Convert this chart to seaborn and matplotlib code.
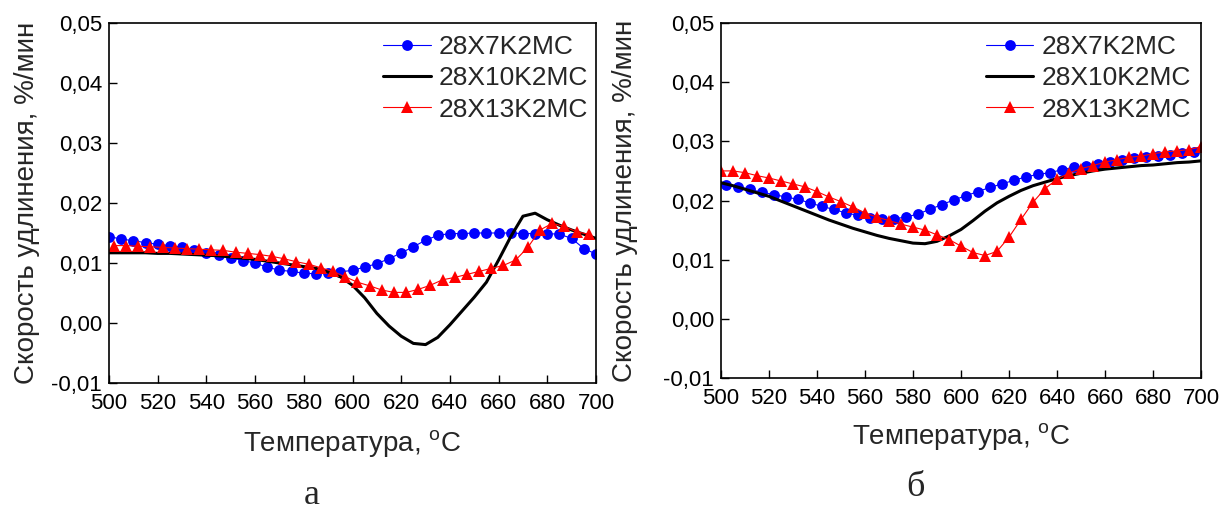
import numpy as np
import pandas as pd
import matplotlib
matplotlib.use("Agg")
import matplotlib.pyplot as plt
import seaborn as sns

# ---------------- data ----------------
series_names = ["28X7K2MC", "28X10K2MC", "28X13K2MC"]

# panel a
a_t_blue = list(range(500, 701, 5))
a_v_blue = [0.0144, 0.0140, 0.0137, 0.0134, 0.0131, 0.0129, 0.0126, 0.0122, 0.0117, 0.0113,
            0.0109, 0.0104, 0.0100, 0.0093, 0.0088, 0.0086, 0.0083, 0.0082, 0.0083, 0.0085,
            0.0088, 0.0093, 0.0099, 0.0107, 0.0117, 0.0127, 0.0138, 0.0146, 0.0149, 0.0149,
            0.0150, 0.0150, 0.0150, 0.0150, 0.0149, 0.0149, 0.0149, 0.0148, 0.0141, 0.0124,
            0.0115]
a_t_black = list(range(500, 701, 5))
a_v_black = [0.0117, 0.0117, 0.0117, 0.0117, 0.0116, 0.0116, 0.0115, 0.0114, 0.0113, 0.0112,
             0.0110, 0.0108, 0.0106, 0.0103, 0.0100, 0.0097, 0.0094, 0.0091, 0.0085, 0.0077,
             0.0063, 0.0042, 0.0016, -0.0005, -0.0022, -0.0034, -0.0036, -0.0024, -0.0003, 0.0020,
             0.0043, 0.0068, 0.0105, 0.0144, 0.0178, 0.0183, 0.0172, 0.0163, 0.0155, 0.0148,
             0.0141]
a_t_red = list(range(502, 698, 5))
a_v_red = [0.0129, 0.0129, 0.0128, 0.0127, 0.0126, 0.0125, 0.0124, 0.0123, 0.0122, 0.0121,
           0.0118, 0.0116, 0.0114, 0.0111, 0.0107, 0.0102, 0.0098, 0.0092, 0.0086, 0.0077,
           0.0068, 0.0062, 0.0055, 0.0051, 0.0051, 0.0056, 0.0063, 0.0072, 0.0076, 0.0081,
           0.0086, 0.0091, 0.0096, 0.0105, 0.0126, 0.0155, 0.0166, 0.0161, 0.0152, 0.0148]

# panel б
b_t_blue = list(range(502, 698, 5))
b_v_blue = [0.0227, 0.0223, 0.0219, 0.0214, 0.0210, 0.0206, 0.0202, 0.0196, 0.0190, 0.0185,
            0.0179, 0.0175, 0.0171, 0.0169, 0.0169, 0.0172, 0.0177, 0.0185, 0.0193, 0.0201,
            0.0208, 0.0215, 0.0222, 0.0228, 0.0234, 0.0240, 0.0244, 0.0247, 0.0252, 0.0256,
            0.0259, 0.0262, 0.0265, 0.0268, 0.0271, 0.0273, 0.0275, 0.0277, 0.0280, 0.0282]
b_t_black = list(range(500, 701, 5))
b_v_black = [0.0230, 0.0225, 0.0219, 0.0213, 0.0207, 0.0199, 0.0191, 0.0183, 0.0175, 0.0167,
             0.0160, 0.0153, 0.0147, 0.0141, 0.0136, 0.0132, 0.0128, 0.0127, 0.0131, 0.0140,
             0.0151, 0.0166, 0.0182, 0.0196, 0.0207, 0.0217, 0.0225, 0.0231, 0.0237, 0.0242,
             0.0246, 0.0250, 0.0253, 0.0255, 0.0257, 0.0259, 0.0260, 0.0262, 0.0264, 0.0265,
             0.0267]
b_t_red = list(range(500, 701, 5))
b_v_red = [0.0250, 0.0250, 0.0247, 0.0242, 0.0238, 0.0233, 0.0228, 0.0223, 0.0215, 0.0206,
           0.0198, 0.0189, 0.0179, 0.0172, 0.0166, 0.0160, 0.0155, 0.0150, 0.0142, 0.0134,
           0.0123, 0.0112, 0.0107, 0.0114, 0.0138, 0.0168, 0.0197, 0.0220, 0.0236, 0.0246,
           0.0254, 0.0259, 0.0265, 0.0269, 0.0273, 0.0275, 0.0279, 0.0282, 0.0284, 0.0286,
           0.0291]

x_ticks = list(range(500, 701, 20))
y_ticks = [-0.01, 0.0, 0.01, 0.02, 0.03, 0.04, 0.05]
y_tick_labels = ["-0,01", "0,00", "0,01", "0,02", "0,03", "0,04", "0,05"]
x_label = "Температура, $^{\\mathrm{o}}$C"
y_label = "Скорость удлинения, %/мин"
panel_labels = ["а", "б"]

# ---------------- style ----------------
sns.set_theme(style="white")
plt.rcParams["font.family"] = ["Liberation Sans", "DejaVu Sans"]
plt.rcParams["mathtext.fontset"] = "custom"
plt.rcParams["mathtext.rm"] = "Liberation Sans"
plt.rcParams["mathtext.it"] = "Liberation Sans"

fig = plt.figure(figsize=(12.21, 5.14), dpi=100)
W, H = 1221, 514


def ax_rect(l, t, r, b):
    return [l / W, 1 - b / H, (r - l) / W, (b - t) / H]


ax_a = fig.add_axes(ax_rect(109, 23, 596, 383))
ax_b = fig.add_axes(ax_rect(721, 23, 1201, 378))

panels = [
    (ax_a, (a_t_blue, a_v_blue), (a_t_black, a_v_black), (a_t_red, a_v_red), 8, 10, 1.008),
    (ax_b, (b_t_blue, b_v_blue), (b_t_black, b_v_black), (b_t_red, b_v_red), 18, 9, 1.003),
]

for ax, blue, black, red, ylpad, xlpad, lx in panels:
    sns.lineplot(x=blue[0], y=blue[1], ax=ax, color="#0000ff", lw=0.8, marker="o",
                 markersize=7.8, markeredgewidth=0, label=series_names[0])
    sns.lineplot(x=black[0], y=black[1], ax=ax, color="black", lw=2.2,
                 label=series_names[1])
    sns.lineplot(x=red[0], y=red[1], ax=ax, color="#ff0000", lw=0.8, marker="^",
                 markersize=8.8, markeredgewidth=0, label=series_names[2])
    ax.set_xlim(500, 700)
    ax.set_ylim(-0.01, 0.05)
    ax.set_xticks(x_ticks)
    ax.set_xticklabels([str(v) for v in x_ticks])
    ax.set_yticks(y_ticks)
    ax.set_yticklabels(y_tick_labels)
    ax.tick_params(direction="in", length=6, width=1, labelsize=16, colors="black",
                   bottom=True, left=True, top=False, right=False)
    ax.tick_params(axis="x", pad=7)
    ax.tick_params(axis="y", pad=5)
    for s in ax.spines.values():
        s.set_color("black")
        s.set_linewidth(1.2)
    ax.set_xlabel(x_label, fontsize=20, labelpad=xlpad)
    ax.set_ylabel(y_label, fontsize=20, labelpad=ylpad)
    ax.legend(loc="upper right", frameon=False, fontsize=19, handlelength=1.8,
              handletextpad=0.3, labelspacing=0.28, borderaxespad=0.0, borderpad=0.45,
              bbox_to_anchor=(lx, 1.0))

fig.text(312 / W, 1 - 496 / H, panel_labels[0], family="Liberation Serif", fontsize=26,
         ha="center", va="center")
fig.text(915 / W, 1 - 488 / H, panel_labels[1], family="Liberation Serif", fontsize=26,
         ha="center", va="center")

fig.savefig("out.png", dpi=100, facecolor="white")
